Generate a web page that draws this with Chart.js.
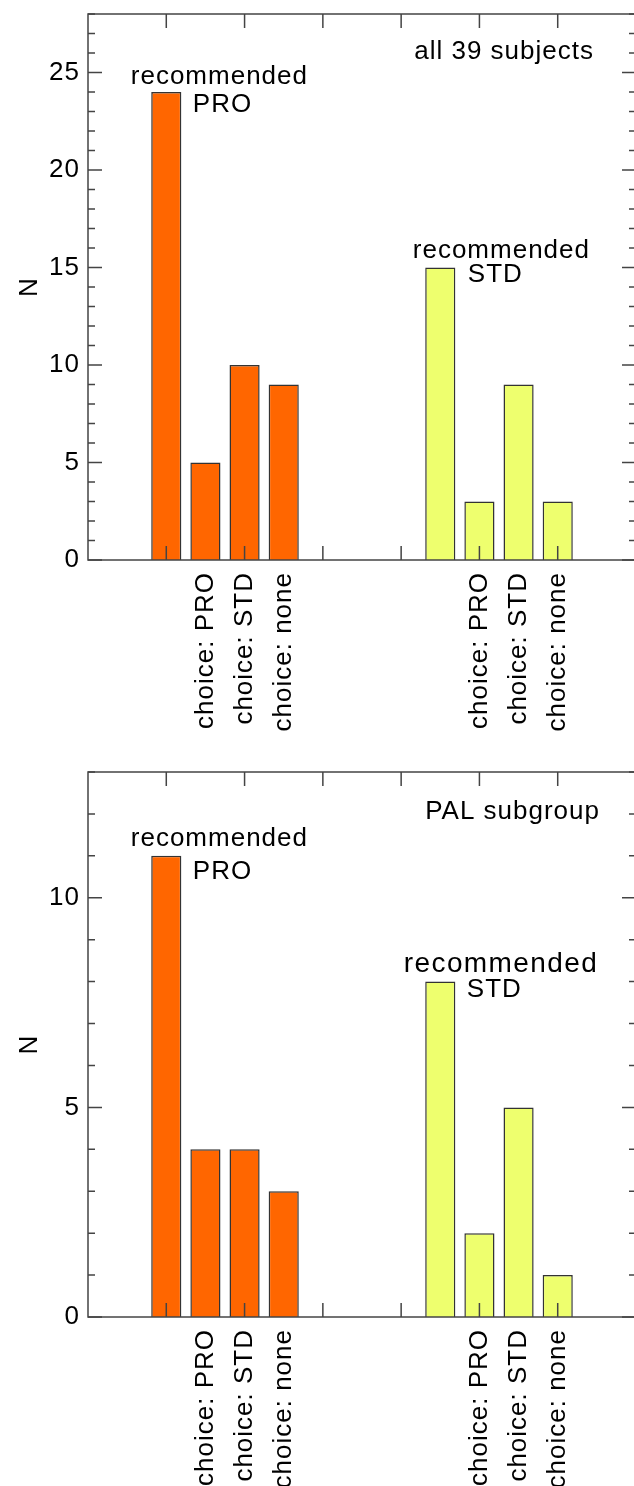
<!DOCTYPE html>
<html>
<head>
<meta charset="utf-8">
<script src="https://cdn.jsdelivr.net/npm/chart.js@4.4.0/dist/chart.umd.min.js"></script>
<style>
  html, body { margin: 0; padding: 0; background: #fff; overflow: hidden; width: 634px; height: 1486px; }
  canvas { display: block; position: absolute; left: 0; }
  #allChart { top: 0; }
  #palChart { top: 743px; }
</style>
</head>
<body>
<canvas id="allChart" width="638" height="743"></canvas>
<canvas id="palChart" width="638" height="743"></canvas>
<script>
// slots along the x axis, blanks are spacers
const categories = [
  '', '', 'recommended PRO', 'choice: PRO', 'choice: STD', 'choice: none',
  '', '', '', 'recommended STD', 'choice: PRO', 'choice: STD', 'choice: none', '', ''
];

// all 39 subjects
const allPro = [null, null, 24, 5, 10, 9, null, null, null, null, null, null, null, null, null];
const allStd = [null, null, null, null, null, null, null, null, null, 15, 3, 9, 3, null, null];

// PAL subgroup
const palPro = [null, null, 11, 4, 4, 3, null, null, null, null, null, null, null, null, null];
const palStd = [null, null, null, null, null, null, null, null, null, 8, 2, 5, 1, null, null];

const allYTicks = [0, 5, 10, 15, 20, 25];
const palYTicks = [0, 5, 10];

const FONT = "'Liberation Sans', Arial, sans-serif";
const proColor = '#ff6600';
const stdColor = '#eeff6e';
const lineColor = '#444';

// frame + inward ticks on all four sides
const framePlugin = {
  id: 'frame',
  beforeDraw(chart) {
    chart.ctx.letterSpacing = '1px';
  },
  afterDatasetsDraw(chart) {
    const { ctx, chartArea: a, scales } = chart;
    ctx.save();
    ctx.strokeStyle = lineColor;
    ctx.lineWidth = 1.5;
    ctx.strokeRect(a.left, a.top, a.right - a.left, a.bottom - a.top);
    const major = chart.options.scales.y.majorTicks;
    ctx.beginPath();
    for (let v = 0; v <= scales.y.max; v++) {
      const y = scales.y.getPixelForValue(v);
      const len = major.includes(v) ? 14 : 7;
      ctx.moveTo(a.left, y); ctx.lineTo(a.left + len, y);
      ctx.moveTo(a.right, y); ctx.lineTo(a.right - len, y);
    }
    for (let i = 2; i < categories.length - 1; i += 2) {
      const x = scales.x.getPixelForValue(i);
      ctx.moveTo(x, a.bottom); ctx.lineTo(x, a.bottom - 14);
      ctx.moveTo(x, a.top); ctx.lineTo(x, a.top + 14);
    }
    ctx.stroke();
    ctx.restore();
  }
};

// "recommended / PRO" labels above the first bar of each group, and panel caption
const notesPlugin = {
  id: 'notes',
  afterDatasetsDraw(chart, args, opts) {
    const { ctx, chartArea: a, scales } = chart;
    ctx.save();
    ctx.fillStyle = '#000';
    ctx.textBaseline = 'middle';
    opts.notes.forEach(n => {
      const idx = categories.indexOf(n.slot);
      const ds = chart.data.datasets[n.dataset].data;
      const x = scales.x.getPixelForValue(idx);
      const y = scales.y.getPixelForValue(ds[idx]);
      ctx.font = n.size + 'px ' + FONT;
      ctx.letterSpacing = (n.spacing || 1) + 'px';
      ctx.textAlign = 'left';
      ctx.fillText(n.text, x + n.dx, y + n.dy);
    });
    ctx.letterSpacing = '1px';
    ctx.font = '26px ' + FONT;
    ctx.textAlign = 'right';
    ctx.fillText(opts.caption, a.right - opts.capRight, a.top + opts.capTop);
    ctx.restore();
  }
};

function makeChart(id, cfg) {
  const ctx = document.getElementById(id).getContext('2d');
  return new Chart(ctx, {
    type: 'bar',
    data: {
      labels: categories,
      datasets: [
        { data: cfg.pro, backgroundColor: proColor, borderColor: '#333', borderWidth: 1.5, grouped: false,
          categoryPercentage: 1, barPercentage: 0.77 },
        { data: cfg.std, backgroundColor: stdColor, borderColor: '#333', borderWidth: 1.5, grouped: false,
          categoryPercentage: 1, barPercentage: 0.77 }
      ]
    },
    options: {
      responsive: false,
      animation: false,
      devicePixelRatio: 1,
      layout: { padding: { top: cfg.padTop, right: 2, left: 0, bottom: 0 } },
      plugins: {
        legend: { display: false },
        tooltip: { enabled: false },
        notes: { notes: cfg.notes, caption: cfg.caption, capRight: cfg.capRight, capTop: cfg.capTop }
      },
      scales: {
        x: {
          type: 'category',
          offset: false,
          grid: { display: false, drawTicks: false },
          border: { display: false },
          afterFit(scale) {
            scale.height = cfg.axisHeight;
            scale.paddingLeft = 0;
            scale.paddingRight = 0;
          },
          ticks: {
            autoSkip: false,
            minRotation: 90,
            maxRotation: 90,
            padding: 12,
            color: '#000',
            font: { family: FONT, size: 26 },
            callback(v) {
              const lab = categories[v];
              return lab.startsWith('recommended') ? '' : lab;
            }
          }
        },
        y: {
          min: 0,
          max: cfg.yMax,
          majorTicks: cfg.yTicks,
          grid: { display: false, drawTicks: false },
          border: { display: false },
          afterBuildTicks(scale) { scale.ticks = cfg.yTicks.map(v => ({ value: v })); },
          afterFit(scale) {
            scale.width = 88;
            scale.paddingTop = 0;
            scale.paddingBottom = 0;
          },
          ticks: { color: '#000', padding: 8, font: { family: FONT, size: 26 } },
          title: { display: true, text: 'N', color: '#000', font: { family: FONT, size: 26 },
                   padding: { top: 14, bottom: 0 } }
        }
      }
    },
    plugins: [framePlugin, notesPlugin]
  });
}

makeChart('allChart', {
  pro: allPro, std: allStd, yMax: 28, yTicks: allYTicks,
  padTop: 14, axisHeight: 183,
  caption: 'all 39 subjects', capRight: 42, capTop: 38,
  notes: [
    { slot: 'recommended PRO', dataset: 0, text: 'recommended', dx: -35.5, dy: -15, size: 26 },
    { slot: 'recommended PRO', dataset: 0, text: 'PRO', dx: 26.5, dy: 13, size: 26 },
    { slot: 'recommended STD', dataset: 1, text: 'recommended', dx: -27.5, dy: -16.5, size: 26 },
    { slot: 'recommended STD', dataset: 1, text: 'STD', dx: 27.5, dy: 7.5, size: 26 }
  ]
});

makeChart('palChart', {
  pro: palPro, std: palStd, yMax: 13, yTicks: palYTicks,
  padTop: 29, axisHeight: 169,
  caption: 'PAL subgroup', capRight: 36, capTop: 40,
  notes: [
    { slot: 'recommended PRO', dataset: 0, text: 'recommended', dx: -35.5, dy: -17, size: 26 },
    { slot: 'recommended PRO', dataset: 0, text: 'PRO', dx: 26.5, dy: 16, size: 26 },
    { slot: 'recommended STD', dataset: 1, text: 'recommended', dx: -36.5, dy: -17, size: 28, spacing: 1.4 },
    { slot: 'recommended STD', dataset: 1, text: 'STD', dx: 26.5, dy: 8, size: 26 }
  ]
});
</script>
</body>
</html>
